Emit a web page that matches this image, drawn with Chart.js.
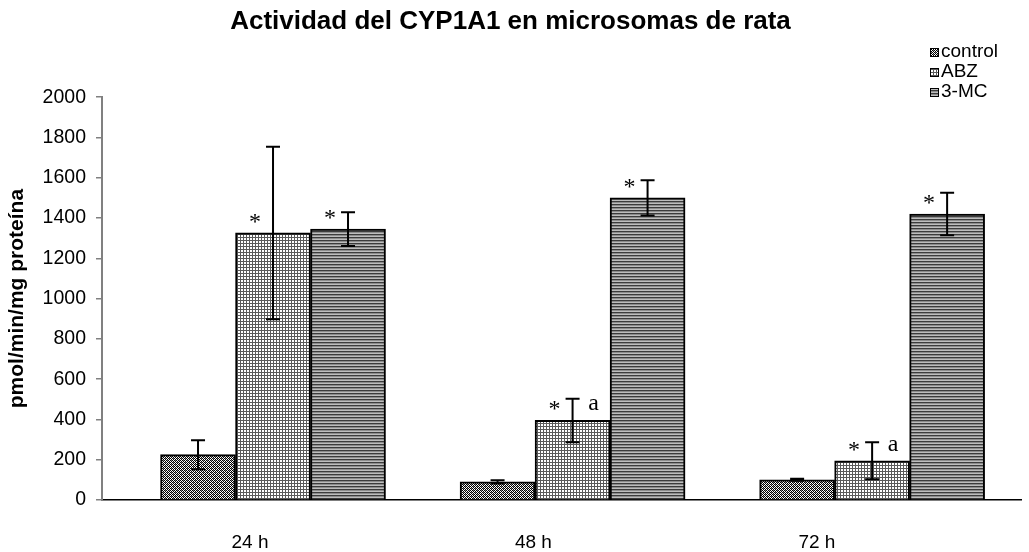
<!DOCTYPE html>
<html>
<head>
<meta charset="utf-8">
<script src="https://cdn.jsdelivr.net/npm/chart.js@4.4.1/dist/chart.umd.min.js"></script>
<style>
  html, body { margin: 0; padding: 0; background: #fff; }
</style>
</head>
<body>
<canvas id="myChart" width="1029" height="552"></canvas>
<script>
// datos
const categories = ['24 h', '48 h', '72 h'];
const seriesNames = ['control', 'ABZ', '3-MC'];

const controlValues = [225, 90, 100];
const abzValues = [1326, 395, 195];
const mcValues = [1345, 1500, 1420];

const controlErrors = [72, 8, 5];
const abzErrors = [428, 108, 92];
const mcErrors = [84, 88, 105];

// marcas de significancia
const controlStars = ['', '', ''];
const abzStars = ['*', '*', '*'];
const mcStars = ['*', '*', '*'];
const controlLetters = ['', '', ''];
const abzLetters = ['', 'a', 'a'];
const mcLetters = ['', '', ''];

const FONT = '"Liberation Sans", Arial, sans-serif';
const SERIF = '"Liberation Serif", "Times New Roman", serif';

// tramas tipo Excel
function makePattern(rows) {
  const c = document.createElement('canvas');
  c.width = rows[0].length;
  c.height = rows.length;
  const g = c.getContext('2d');
  rows.forEach((row, y) => row.forEach((col, x) => {
    g.fillStyle = col;
    g.fillRect(x, y, 1, 1);
  }));
  return g.createPattern(c, 'repeat');
}

const K = '#000000', W = '#ffffff', G = '#8a8a8a', L = '#5a5a5a';
const controlFill = makePattern([
  [K, W, K, G],
  [W, K, W, K],
  [K, G, K, W],
  [W, K, W, K]
]);
const abzFill = makePattern([
  [L, L, L],
  [L, W, W],
  [L, W, W]
]);
const mcFill = makePattern([
  ['#3c3c3c'],
  ['#8c8c8c'],
  ['#bdbdbd']
]);

function points(vals) {
  return vals.map((v, i) => ({ x: i, y: v }));
}

const errorBars = {
  id: 'errorBars',
  afterDatasetsDraw(chart) {
    const ctx = chart.ctx;
    const y = chart.scales.y;
    ctx.save();
    chart.data.datasets.forEach((ds, di) => {
      const meta = chart.getDatasetMeta(di);
      meta.data.forEach((bar, i) => {
        const v = ds.data[i].y;
        const e = ds.errors[i];
        const top = y.getPixelForValue(v + e);
        const bot = y.getPixelForValue(v - e);
        ctx.strokeStyle = '#000';
        ctx.lineWidth = 2;
        ctx.beginPath();
        ctx.moveTo(bar.x, top);
        ctx.lineTo(bar.x, bot);
        ctx.moveTo(bar.x - 7, top);
        ctx.lineTo(bar.x + 7, top);
        ctx.moveTo(bar.x - 7, bot);
        ctx.lineTo(bar.x + 7, bot);
        ctx.stroke();

        ctx.fillStyle = '#000';
        ctx.font = '24px ' + SERIF;
        ctx.textAlign = 'center';
        ctx.textBaseline = 'alphabetic';
        if (ds.stars[i]) ctx.fillText(ds.stars[i], bar.x - 18, bar.y - 4);
        if (ds.letters[i]) ctx.fillText(ds.letters[i], bar.x + 21, bar.y - 10);
      });
    });
    ctx.restore();
  }
};

// leyenda arriba a la derecha, encima del area del grafico
const boxLegend = {
  id: 'boxLegend',
  afterDraw(chart) {
    const ctx = chart.ctx;
    const x0 = chart.chartArea.right - 91;
    ctx.save();
    ctx.font = '19px ' + FONT;
    ctx.textBaseline = 'middle';
    ctx.textAlign = 'left';
    chart.data.datasets.forEach((ds, i) => {
      const yc = 52 + i * 20;
      ctx.fillStyle = ds.backgroundColor;
      ctx.fillRect(x0, yc - 4, 9, 9);
      ctx.strokeStyle = '#000';
      ctx.lineWidth = 1;
      ctx.strokeRect(x0 + 0.5, yc - 3.5, 8, 8);
      ctx.fillStyle = '#000';
      ctx.fillText(ds.label, x0 + 11, yc);
    });
    ctx.restore();
  }
};

function makeSet(i, vals, errs, stars, letters, fill) {
  return {
    label: seriesNames[i],
    data: points(vals),
    errors: errs,
    stars: stars,
    letters: letters,
    backgroundColor: fill,
    borderColor: '#000',
    borderWidth: 2,
    barThickness: 75,
    xAxisID: 'x'
  };
}

const config = {
  type: 'bar',
  data: {
    datasets: [
      makeSet(0, controlValues, controlErrors, controlStars, controlLetters, controlFill),
      makeSet(1, abzValues, abzErrors, abzStars, abzLetters, abzFill),
      makeSet(2, mcValues, mcErrors, mcStars, mcLetters, mcFill)
    ]
  },
  options: {
    responsive: false,
    animation: false,
    layout: { padding: { top: 0, right: 8, bottom: -33, left: 0 } },
    plugins: {
      legend: { display: false },
      tooltip: { enabled: false },
      title: {
        display: true,
        text: 'Actividad del CYP1A1 en microsomas de rata',
        color: '#000',
        font: { family: FONT, size: 26, weight: 'bold' },
        padding: { top: 6, bottom: 60 }
      }
    },
    scales: {
      x: {
        type: 'linear',
        position: 'bottom',
        display: false,
        offset: false,
        min: -0.571,
        max: 2.497
      },
      x2: {
        type: 'linear',
        position: 'bottom',
        offset: false,
        min: -0.522,
        max: 2.72,
        afterBuildTicks: (s) => { s.ticks = categories.map((c, i) => ({ value: i })); },
        grid: { display: false, drawTicks: false, offset: false },
        border: { display: true, color: '#000', width: 1.5 },
        ticks: {
          padding: 33,
          color: '#000',
          font: { family: FONT, size: 19, lineHeight: 1 },
          callback: (v) => categories[v]
        }
      },
      y: {
        min: 0,
        max: 2000,
        ticks: {
          stepSize: 200,
          padding: 10,
          color: '#000',
          font: { family: FONT, size: 19.5 },
          callback: (v) => String(v)
        },
        grid: { drawOnChartArea: false, tickLength: 6, color: '#808080', lineWidth: 1.5 },
        border: { color: '#808080', width: 2 },
        title: {
          display: true,
          text: 'pmol/min/mg proteína',
          color: '#000',
          font: { family: FONT, size: 21, weight: 'bold' },
          padding: { top: 5, bottom: 2.4 }
        }
      }
    }
  },
  plugins: [errorBars, boxLegend]
};

const ctx = document.getElementById('myChart').getContext('2d');
new Chart(ctx, config);
</script>
</body>
</html>
